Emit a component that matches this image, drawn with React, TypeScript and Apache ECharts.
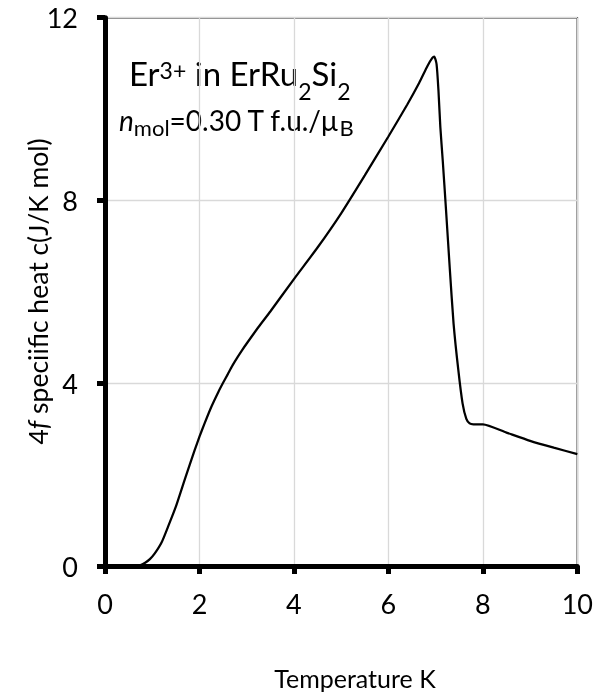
import React, { useEffect, useRef } from 'react';
import * as echarts from 'echarts';

// Temperature (K)
const temperature = [
  0, 0.5, 0.75, 0.85, 0.95, 1.05, 1.2, 1.35, 1.5, 1.7, 1.9, 2.0, 2.1, 2.25, 2.4, 2.5,
  2.6, 2.7, 2.8, 2.9, 3.0, 3.25, 3.5, 4.0, 4.5, 5.0, 5.5, 6.0, 6.4, 6.65, 6.83, 6.93,
  6.97, 7.02, 7.06, 7.1, 7.15, 7.22, 7.3, 7.38, 7.48, 7.57, 7.65, 7.72, 7.8, 8.0, 8.5,
  9.0, 9.5, 10,
];
// 4f specific heat c (J/K mol)
const specificHeat = [
  0, 0, 0.02, 0.07, 0.15, 0.27, 0.52, 0.9, 1.3, 1.93, 2.54, 2.83, 3.1, 3.48, 3.81, 4.01,
  4.2, 4.39, 4.56, 4.72, 4.87, 5.23, 5.57, 6.28, 6.97, 7.72, 8.55, 9.4, 10.1, 10.57, 10.95, 11.12,
  11.15, 10.98, 10.4, 9.6, 8.88, 7.79, 6.5, 5.3, 4.29, 3.56, 3.22, 3.12, 3.1, 3.1, 2.92,
  2.74, 2.59, 2.45,
];

const xRange = { min: 0, max: 10, interval: 2 };
const yRange = { min: 0, max: 12, interval: 4 };

const xAxisTitle = 'Temperature K';
const yAxisTitleParts = ['4', 'f', ' speciific heat c(J/K mol)'];
// pieces: [text, kind]  kind: m = main, sup, sub, i = italic main, space
const annotationLine1: [string, string][] = [
  ['Er', 'm'], ['3+', 'sup'], [' ', 'space'], ['in ErRu', 'm'], ['2', 'sub'], ['Si', 'm'], ['2', 'sub'],
];
const annotationLine2: [string, string][] = [
  ['n', 'i'], ['mol', 'sub'], ['=0.30 T f.u./μ', 'm'], ['B', 'sub'],
];

const FONT = 'Lato';

function measure(text: string, font: string): number {
  const c = document.createElement('canvas').getContext('2d');
  if (!c) return text.length * 10;
  c.font = font;
  return c.measureText(text).width;
}

function buildLine(
  pieces: [string, string][],
  x0: number,
  cfg: { main: number; small: number; mainCy: number; supCy: number; subCy: number },
) {
  const els: any[] = [];
  let x = x0;
  for (const [text, kind] of pieces) {
    const isSmall = kind === 'sup' || kind === 'sub';
    const size = isSmall ? cfg.small : cfg.main;
    const italic = kind === 'i';
    const font = `${italic ? 'italic ' : ''}${size}px ${FONT}`;
    const w = measure(text, font);
    if (kind !== 'space') {
      const cy = kind === 'sup' ? cfg.supCy : kind === 'sub' ? cfg.subCy : cfg.mainCy;
      els.push({
        type: 'text',
        x,
        y: cy,
        style: {
          text,
          align: 'left',
          verticalAlign: 'middle',
          fontSize: size,
          lineHeight: size * 0.8,
          fontFamily: FONT,
          fontStyle: italic ? 'italic' : 'normal',
          fill: '#000',
        },
      });
    }
    x += w;
  }
  return els;
}

export default function App() {
  const ref = useRef<HTMLDivElement>(null);
  useEffect(() => {
    if (!ref.current) return;
    const chart = echarts.init(ref.current, null, { renderer: 'svg' });
    const axisCommon = {
      type: 'value' as const,
      axisLine: { show: true, onZero: false, lineStyle: { color: '#000', width: 5 } },
      axisTick: { show: true, inside: false, length: 8, lineStyle: { color: '#000', width: 5 } },
      splitLine: { show: true, lineStyle: { color: '#d9d9d9', width: 1.3 } },
    };
    const line1 = buildLine(annotationLine1, 129, { main: 33, small: 23, mainCy: 73.4, supCy: 70, subCy: 91 });
    const line2 = buildLine(annotationLine2, 119, { main: 28, small: 22, mainCy: 119.5, supCy: 112, subCy: 127.5 });
    chart.setOption({
      animation: false,
      grid: {
        left: 105,
        right: 15.5,
        top: 17.7,
        bottom: 132,
        show: true,
        borderColor: '#000',
        borderWidth: 1.5,
        backgroundColor: 'transparent',
      },
      xAxis: {
        ...axisCommon,
        ...xRange,
        axisLabel: { margin: 24, fontSize: 27, fontFamily: FONT, color: '#000' },
      },
      yAxis: {
        ...axisCommon,
        ...yRange,
        axisLabel: { margin: 27, fontSize: 27, fontFamily: FONT, color: '#000' },
      },
      series: [
        {
          type: 'line',
          data: temperature.map((t, i) => [t, specificHeat[i]]),
          showSymbol: false,
          symbol: 'none',
          smooth: 0.2,
          lineStyle: { color: '#000', width: 2.25 },
        },
      ],
      graphic: [
        ...line1,
        ...line2,
        {
          type: 'text',
          x: 37.5,
          y: 291.5,
          rotation: Math.PI / 2,
          style: {
            text: `{a|${yAxisTitleParts[0]}}{fi|${yAxisTitleParts[1]}}{a|${yAxisTitleParts[2]}}`,
            align: 'center',
            verticalAlign: 'middle',
            rich: {
              a: { fontSize: 26.5, fontFamily: FONT, fill: '#000' },
              fi: { fontSize: 26.5, fontFamily: FONT, fontStyle: 'italic', fill: '#000' },
            },
          },
        },
        {
          type: 'text',
          x: 355,
          y: 678.3,
          style: {
            text: xAxisTitle,
            align: 'center',
            verticalAlign: 'middle',
            fontSize: 25,
            fontFamily: FONT,
            fill: '#000',
          },
        },
      ],
    });
    return () => chart.dispose();
  }, []);
  return <div ref={ref} style={{ position: 'fixed', left: 0, top: 0, width: 596, height: 698 }} />;
}
